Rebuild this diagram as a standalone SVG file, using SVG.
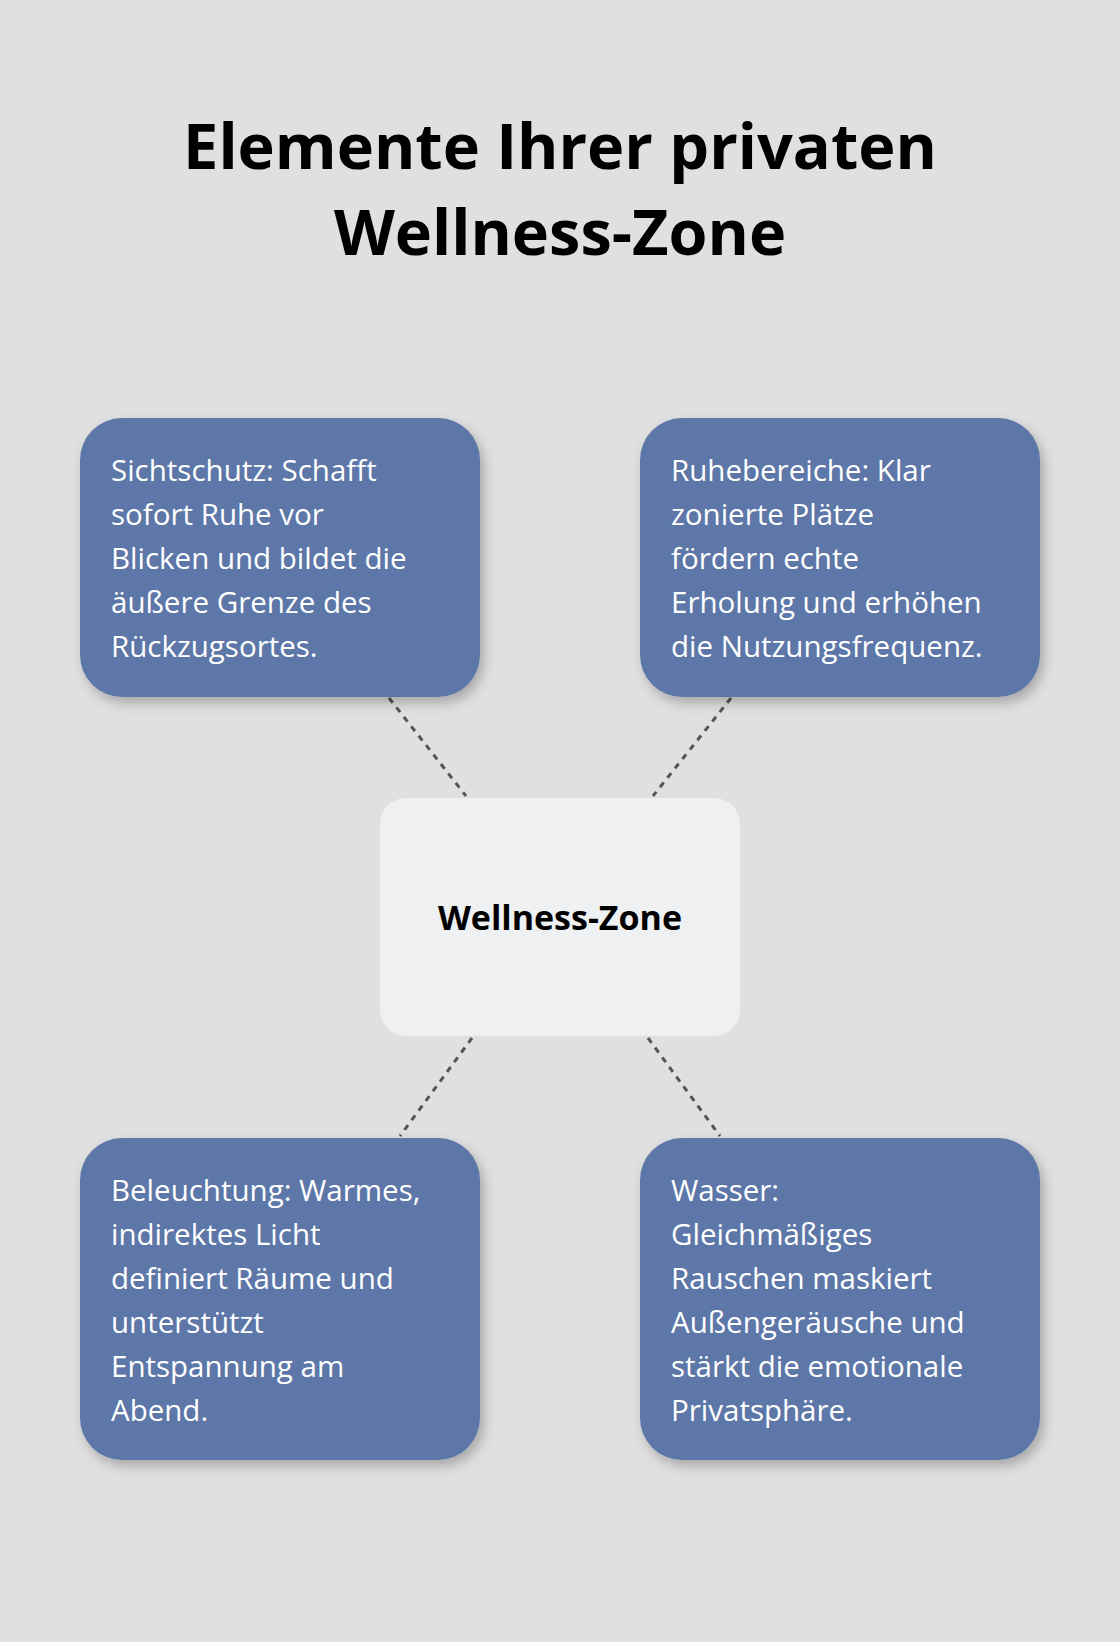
<svg xmlns="http://www.w3.org/2000/svg" width="1120" height="1642" viewBox="0 0 1120 1642">
<style>
.box{fill:#5d77a8;filter:url(#sh)}
.t{font-family:"Open Sans","Liberation Sans",sans-serif;font-size:29.5px;fill:#ffffff}
.title{font-family:"Open Sans","Liberation Sans",sans-serif;font-size:63px;font-weight:bold;fill:#000;text-anchor:middle}
.c{stroke:#555;stroke-width:3;stroke-dasharray:6 6;fill:none}
</style>
<defs><filter id="sh" x="-20%" y="-20%" width="140%" height="140%"><feDropShadow dx="4" dy="6" stdDeviation="6" flood-color="#000" flood-opacity="0.25"/></filter></defs>
<rect width="1120" height="1642" fill="#dfe0df"/>
<text class="title" x="560" y="169">Elemente Ihrer privaten</text>
<text class="title" x="560" y="255">Wellness-Zone</text>
<g id="connectors">
<line class="c" x1="389" y1="698" x2="466" y2="796"/>
<line class="c" x1="731" y1="698" x2="653" y2="796"/>
<line class="c" x1="472" y1="1038" x2="400" y2="1136"/>
<line class="c" x1="648" y1="1038" x2="720" y2="1136"/>
</g>
<g id="center"><rect x="380" y="798" width="360" height="238" rx="26" fill="#eff0f2"/>
<text x="560" y="930" text-anchor="middle" font-family="'Open Sans','Liberation Sans',sans-serif" font-size="34" font-weight="bold">Wellness-Zone</text></g>
<g id="n1"><rect class="box" x="80" y="418" width="400" height="279" rx="42"/>
<text class="t" x="111"><tspan x="111" y="481">Sichtschutz: Schafft</tspan><tspan x="111" y="525">sofort Ruhe vor</tspan><tspan x="111" y="569">Blicken und bildet die</tspan><tspan x="111" y="613">äußere Grenze des</tspan><tspan x="111" y="657">Rückzugsortes.</tspan></text></g>
<g id="n2"><rect class="box" x="640" y="418" width="400" height="279" rx="42"/>
<text class="t"><tspan x="671" y="481">Ruhebereiche: Klar</tspan><tspan x="671" y="525">zonierte Plätze</tspan><tspan x="671" y="569">fördern echte</tspan><tspan x="671" y="613">Erholung und erhöhen</tspan><tspan x="671" y="657">die Nutzungsfrequenz.</tspan></text></g>
<g id="n3"><rect class="box" x="80" y="1138" width="400" height="322" rx="42"/>
<text class="t"><tspan x="111" y="1201">Beleuchtung: Warmes,</tspan><tspan x="111" y="1245">indirektes Licht</tspan><tspan x="111" y="1289">definiert Räume und</tspan><tspan x="111" y="1333">unterstützt</tspan><tspan x="111" y="1377">Entspannung am</tspan><tspan x="111" y="1421">Abend.</tspan></text></g>
<g id="n4"><rect class="box" x="640" y="1138" width="400" height="322" rx="42"/>
<text class="t"><tspan x="671" y="1201">Wasser:</tspan><tspan x="671" y="1245">Gleichmäßiges</tspan><tspan x="671" y="1289">Rauschen maskiert</tspan><tspan x="671" y="1333">Außengeräusche und</tspan><tspan x="671" y="1377">stärkt die emotionale</tspan><tspan x="671" y="1421">Privatsphäre.</tspan></text></g>
</svg>
